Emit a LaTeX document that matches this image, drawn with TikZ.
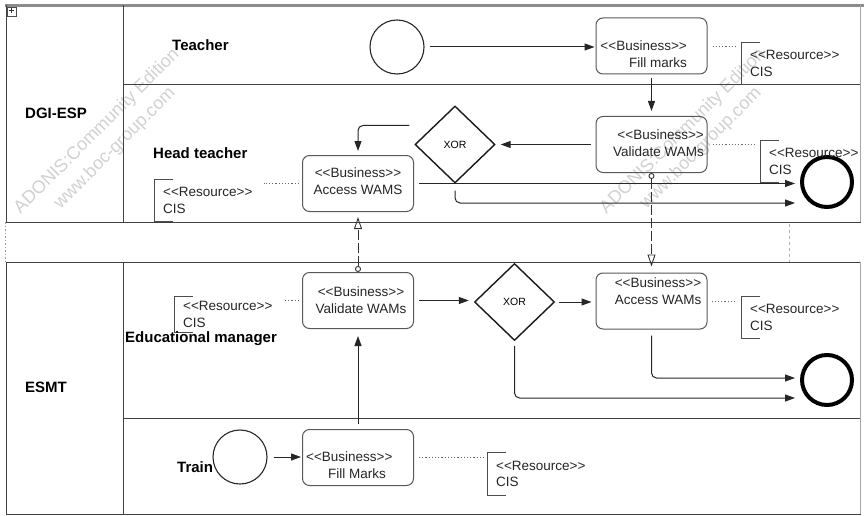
\documentclass[tikz,border=0pt]{standalone}
\usepackage{fontspec}
\newfontfamily\adfont{Liberation Sans}
\usetikzlibrary{arrows.meta,shapes.geometric,calc}

\tikzset{
  frame/.style={draw=black!75, line width=1pt},
  lanelabel/.style={font=\adfont\bfseries\fontsize{15}{18}\selectfont, anchor=west, inner sep=0pt},
  task/.style={draw=black!65, line width=1pt, rounded corners=7pt, minimum width=111pt, minimum height=56pt, inner sep=0pt},
  tasktext/.style={font=\adfont\fontsize{13.5}{17}\selectfont, inner sep=0pt, text=black!85},
  restext/.style={font=\adfont\fontsize{13.5}{16.5}\selectfont, align=left, inner xsep=9pt, inner ysep=0pt, anchor=west, text=black!85, minimum height=42pt},
  bracket/.style={draw=black!70, line width=1pt},
  gate/.style={diamond, draw=black!90, line width=1.4pt, minimum width=80pt, minimum height=77pt, inner sep=0pt, font=\adfont\fontsize{10.5}{12}\selectfont},
  startev/.style={circle, draw=black!85, line width=1.1pt, minimum size=54pt, inner sep=0pt, fill=white},
  endev/.style={circle, draw=black, line width=4pt, minimum size=50pt, inner sep=0pt},
  flow/.style={draw=black!85, line width=1pt, -{Triangle[length=10pt,width=7pt]}},
  msg/.style={draw=black!80, line width=0.9pt, dash pattern=on 10pt off 3pt, {Circle[open,length=6pt,width=6pt]}-{Triangle[open,length=12pt,width=8pt]}},
  assoc/.style={draw=black!60, line width=0.9pt, dash pattern=on 1.2pt off 2pt},
  wmark/.style={font=\adfont\fontsize{18}{18}\selectfont, text=black!18, rotate=45, inner sep=0pt},
}

\begin{document}
\begin{tikzpicture}[x=1pt,y=-1pt]
\useasboundingbox (0,0) rectangle (864,516);
\fill[white] (0,0) rectangle (864,516);

% watermark texts
\node[wmark] (wm1a) at (97,131.5) {ADONIS:Community Edition};
\node[wmark] (wm1b) at (115,148.5) {www.boc-group.com};
\node[wmark] (wm2a) at (683,131.5) {ADONIS:Community Edition};
\node[wmark] (wm2b) at (701,148.5) {www.boc-group.com};

% upper pool
\draw[black!45, line width=3pt] (5,5.5) -- (864,5.5);
\draw[frame] (6,5) -- (6,222) -- (861,222);
\draw[frame] (123,5) -- (123,222);
\draw[frame] (123,85) -- (861,85);
\draw[black!35, line width=0.8pt] (860,5) -- (860,222);
% collapse box
\draw[black!70, line width=0.7pt, fill=white] (7,7) rectangle (16,16);
\draw[black!80, line width=0.8pt] (9,10.5) -- (14,10.5) (11.5,8) -- (11.5,13);

% gap between pools
\draw[black!40, line width=0.8pt, dash pattern=on 1.5pt off 2pt] (5,222) -- (5,262);
\draw[black!30, line width=0.8pt, dash pattern=on 3pt off 3pt] (789,224) -- (789,262);

% lower pool
\draw[frame] (6,262) -- (861,262);
\draw[frame] (6,262) -- (6,514) -- (861,514);
\draw[frame] (123,262) -- (123,514);
\draw[frame] (123,418) -- (861,418);
\draw[black!35, line width=0.8pt] (860,262) -- (860,514);

% pool and lane labels
\node[lanelabel] (p1) at (25,113) {DGI-ESP};
\node[lanelabel] (p2) at (25,387) {ESMT};
\node[lanelabel] (l1) at (172,45) {Teacher};
\node[lanelabel] (l2) at (153,153) {Head teacher};
\node[lanelabel] (l4) at (177,467) {Train};

% activities
\node[startev] (s1) at (397,47) {};
\node[task] (fm1) at (651.5,46) {};
\node[tasktext, align=right, anchor=east] (fm1t) at (687,54) {<<Business>>\\Fill marks};
\node[task] (vw1) at (651.5,144.5) {};
\node[tasktext, align=right, anchor=east] (vw1t) at (704,143.5) {<<Business>>\\Validate WAMs};
\node[gate] (x1) at (455,144.5) {XOR};
\node[task] (aw1) at (358,183.5) {};
\node[tasktext, align=center] (aw1t) at (358,181.5) {<<Business>>\\Access WAMS};
\node[endev] (e1) at (827,182) {};

\node[task] (vw2) at (358,300.5) {};
\node[tasktext, align=center] (vw2t) at (361,300) {<<Business>>\\Validate WAMs};
\node[gate] (x2) at (514.5,302) {XOR};
\node[task] (aw2) at (651.5,301) {};
\node[tasktext, align=center] (aw2t) at (658,291.5) {<<Business>>\\Access WAMs};
\node[endev] (e2) at (827,380) {};

\node[startev] (s2) at (240,457) {};
\node[task] (fm2) at (358,457.5) {};
\node[tasktext, align=left, anchor=west] (fm2t) at (306,465) {<<Business>>\\\hspace*{22pt}Fill Marks};

% resources
\node[restext] (r1) at (741,63.5) {<<Resource>>\\CIS};
\node[restext] (r2) at (760,161.5) {<<Resource>>\\CIS};
\node[restext] (r3) at (154,200.5) {<<Resource>>\\CIS};
\node[restext, minimum height=35pt] (r4) at (174,314.5) {<<Resource>>\\CIS};
\node[restext] (r5) at (741,317.5) {<<Resource>>\\CIS};
\node[restext] (r6) at (487,474) {<<Resource>>\\CIS};
\foreach \r in {r1,r2,r3,r4,r5,r6}{
  \draw[bracket] ([xshift=19pt]\r.north west) -- (\r.north west) -- (\r.south west) -- ++(19,0);
}
\node[lanelabel] (l3) at (125,339) {Educational manager};

% resource associations
\draw[assoc, shorten <=5pt, shorten >=6pt] (fm1.east) -- (fm1.east -| r1.west);
\draw[assoc, shorten <=5pt, shorten >=5pt] (vw1.east) -- (vw1.east -| r2.west);
\draw[assoc, shorten <=3pt, shorten >=2pt] (aw1.west) -- (aw1.west -| r3.east);
\draw[assoc, shorten <=3pt, shorten >=3pt] (vw2.west) -- (vw2.west -| r4.east);
\draw[assoc, shorten <=4pt, shorten >=6pt] (aw2.east) -- (aw2.east -| r5.west);
\draw[assoc, shorten <=5pt, shorten >=2pt] (fm2.east) -- (fm2.east -| r6.west);

% sequence flows
\draw[flow, shorten <=5pt, shorten >=1pt] (s1.east) -- (s1.east -| fm1.west);
\draw[flow, shorten <=4pt, shorten >=5pt] (fm1.south) -- (vw1.north);
\draw[flow, shorten <=5pt, shorten >=5pt] (vw1.west) -- (vw1.west -| x1.east);
\draw[flow, rounded corners=5pt, shorten >=4pt] ([xshift=-5pt,yshift=19pt]x1.west) -| (aw1.north);
\draw[flow, shorten <=5pt, shorten >=5pt] (aw1.east) -- (aw1.east -| e1.west);
\draw[flow, rounded corners=5pt, shorten >=5pt] ([yshift=-7pt]x1.south) |- ([yshift=-21pt]e1.west);

\draw[flow, shorten <=5pt, shorten >=5pt] (vw2.east) -- (vw2.east -| x2.west);
\draw[flow, shorten <=4pt, shorten >=4pt] (x2.east) -- (x2.east -| aw2.west);
\draw[flow, rounded corners=5pt, shorten <=6pt, shorten >=5pt] (aw2.south) |- ([yshift=2pt]e2.west);
\draw[flow, rounded corners=5pt, shorten <=5pt, shorten >=5pt] (x2.south) |- ([yshift=-18pt]e2.west);
\draw[flow, shorten <=6pt, shorten >=1pt] (s2.east) -- (s2.east -| fm2.west);
\draw[flow, shorten <=5pt, shorten >=7pt] (fm2.north) -- (vw2.south);

% message flows between pools
\draw[msg, shorten >=6pt] (vw1.south) -- (aw2.north);
\draw[msg, shorten >=5pt] (vw2.north) -- (aw1.south);
\end{tikzpicture}
\end{document}
